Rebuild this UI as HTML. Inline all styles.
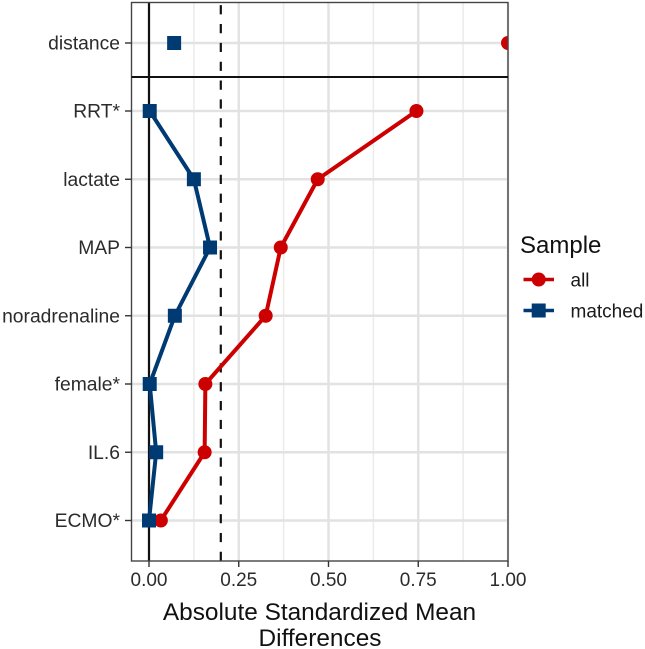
<!DOCTYPE html>
<html lang="en">
<head>
<meta charset="utf-8">
<title>Love plot</title>
<style>
html,body{margin:0;padding:0;background:#fff;width:645px;height:649px;overflow:hidden}
svg{display:block;font-family:"Liberation Sans",Arial,sans-serif;filter:blur(0.35px)}
</style>
</head>
<body>
<svg id="chart" width="645" height="649" viewBox="0 0 645 649" xmlns="http://www.w3.org/2000/svg">
  <defs>
    <clipPath id="panel-clip"><rect x="131.5" y="2.5" width="376.5" height="558.5"/></clipPath>
  </defs>
  <rect x="0" y="0" width="645" height="649" fill="#fff"/>
  <g id="grid"></g>
  <g id="reflines"></g>
  <g id="marks" clip-path="url(#panel-clip)"></g>
  <rect x="131.5" y="2.5" width="376.5" height="558.5" fill="none" stroke="#444" stroke-width="1.4"/>
  <line x1="131.5" x2="508" y1="77" y2="77" stroke="#111" stroke-width="2"/>
  <g id="axes"></g>
  <text x="319.5" y="620" font-size="24.4" text-anchor="middle" fill="#111">Absolute Standardized Mean</text>
  <text x="320" y="646" font-size="24.4" text-anchor="middle" fill="#111">Differences</text>
  <g>
    <text x="520" y="253" font-size="24" fill="#111">Sample</text>
    <g>
      <line x1="523.5" x2="554" y1="279.5" y2="279.5" stroke="#cc0000" stroke-width="3.6"/>
      <circle cx="538.7" cy="279.5" r="7" fill="#cc0000"/>
      <text x="570.5" y="286.5" font-size="19" fill="#1a1a1a">all</text>
    </g>
    <g>
      <line x1="523.5" x2="554" y1="310.5" y2="310.5" stroke="#003a73" stroke-width="3.6"/>
      <rect x="531.7" y="303.5" width="14" height="14" fill="#003a73"/>
      <text x="570.5" y="317.5" font-size="19" fill="#1a1a1a">matched</text>
    </g>
  </g>
</svg>
<script>
const covariates = ["RRT*", "lactate", "MAP", "noradrenaline", "female*", "IL.6", "ECMO*"];
const allValues = [0.745, 0.47, 0.367, 0.325, 0.157, 0.155, 0.033];
const matchedValues = [0.002, 0.125, 0.17, 0.072, 0.002, 0.02, 0.0];
const distanceLabel = "distance";
const distanceAll = 1.0;
const distanceMatched = 0.07;
const xTicks = [0, 0.25, 0.5, 0.75, 1];
const xTickLabels = ["0.00", "0.25", "0.50", "0.75", "1.00"];
const xMinorTicks = [0.125, 0.375, 0.625, 0.875];
const threshold = 0.2;

const NS = "http://www.w3.org/2000/svg";
const PANEL = {left: 131.5, right: 508, top: 2.5, bottom: 561};
const RED = "#cc0000";
const BLUE = "#003a73";

function xScale(v) { return 149 + v * 359; }
function yScale(i) { return 111 + i * 68.25; }
const yDistance = 43;

function make(tag, attrs, parent) {
  const el = document.createElementNS(NS, tag);
  for (const k in attrs) el.setAttribute(k, attrs[k]);
  parent.appendChild(el);
  return el;
}

const grid = document.getElementById("grid");
const reflines = document.getElementById("reflines");
const marks = document.getElementById("marks");
const axes = document.getElementById("axes");

xMinorTicks.forEach(function (t) {
  const l = make("line", {x1: xScale(t), x2: xScale(t), y1: PANEL.top, y2: PANEL.bottom, stroke: "#ebebeb", "stroke-width": 1.5}, grid);
  
  
});
xTicks.forEach(function (t) {
  const l = make("line", {x1: xScale(t), x2: xScale(t), y1: PANEL.top, y2: PANEL.bottom, stroke: "#e2e2e2", "stroke-width": 2.4}, grid);
  
  
});

function rowGuides(label, y) {
  const g = make("line", {x1: PANEL.left, x2: PANEL.right, y1: y, y2: y, stroke: "#e2e2e2", "stroke-width": 2.4}, grid);
  
  
  const tick = make("line", {x1: 125, x2: 131.5, y1: y, y2: y, stroke: "#333", "stroke-width": 1.4}, axes);
  
  
  const txt = make("text", {x: 120, y: y + 6.5, "font-size": 19.3, "text-anchor": "end", fill: "#2b2b2b"}, axes);
  
  
  txt.textContent = label;
}

rowGuides(distanceLabel, yDistance);
covariates.forEach(function (c, i) { rowGuides(c, yScale(i)); });

xTicks.forEach(function (t, i) {
  const tick = make("line", {x1: xScale(t), x2: xScale(t), y1: PANEL.bottom, y2: PANEL.bottom + 6, stroke: "#333", "stroke-width": 1.4}, axes);
  
  
  const txt = make("text", {x: xScale(t), y: 586, "font-size": 19, "text-anchor": "middle", fill: "#2b2b2b"}, axes);
  
  
  txt.textContent = xTickLabels[i];
});

const zeroLine = make("line", {x1: xScale(0), x2: xScale(0), y1: PANEL.top, y2: PANEL.bottom, stroke: "#111", "stroke-width": 2.2}, reflines);


const thresholdLine = make("line", {x1: xScale(threshold), x2: xScale(threshold), y1: PANEL.bottom, y2: PANEL.top, stroke: "#111", "stroke-width": 2.2, "stroke-dasharray": "9.2 9.65"}, reflines);



function seriesLine(values, color, name) {
  const pts = values.map(function (v, i) { return xScale(v) + "," + yScale(i); }).join(" ");
  const p = make("polyline", {points: pts, fill: "none", stroke: color, "stroke-width": 4, "stroke-linejoin": "round"}, marks);
  
  
}
function dot(v, y) {
  const c = make("circle", {cx: xScale(v), cy: y, r: 7, fill: RED}, marks);
  
  
}
function square(v, y) {
  const r = make("rect", {x: xScale(v) - 7, y: y - 7, width: 14, height: 14, fill: BLUE}, marks);
  
  
}

seriesLine(allValues, RED, 'line-all');
seriesLine(matchedValues, BLUE, 'line-matched');
allValues.forEach(function (v, i) { dot(v, yScale(i)); });
matchedValues.forEach(function (v, i) { square(v, yScale(i)); });
dot(distanceAll, yDistance);
square(distanceMatched, yDistance);
</script>
</body>
</html>
